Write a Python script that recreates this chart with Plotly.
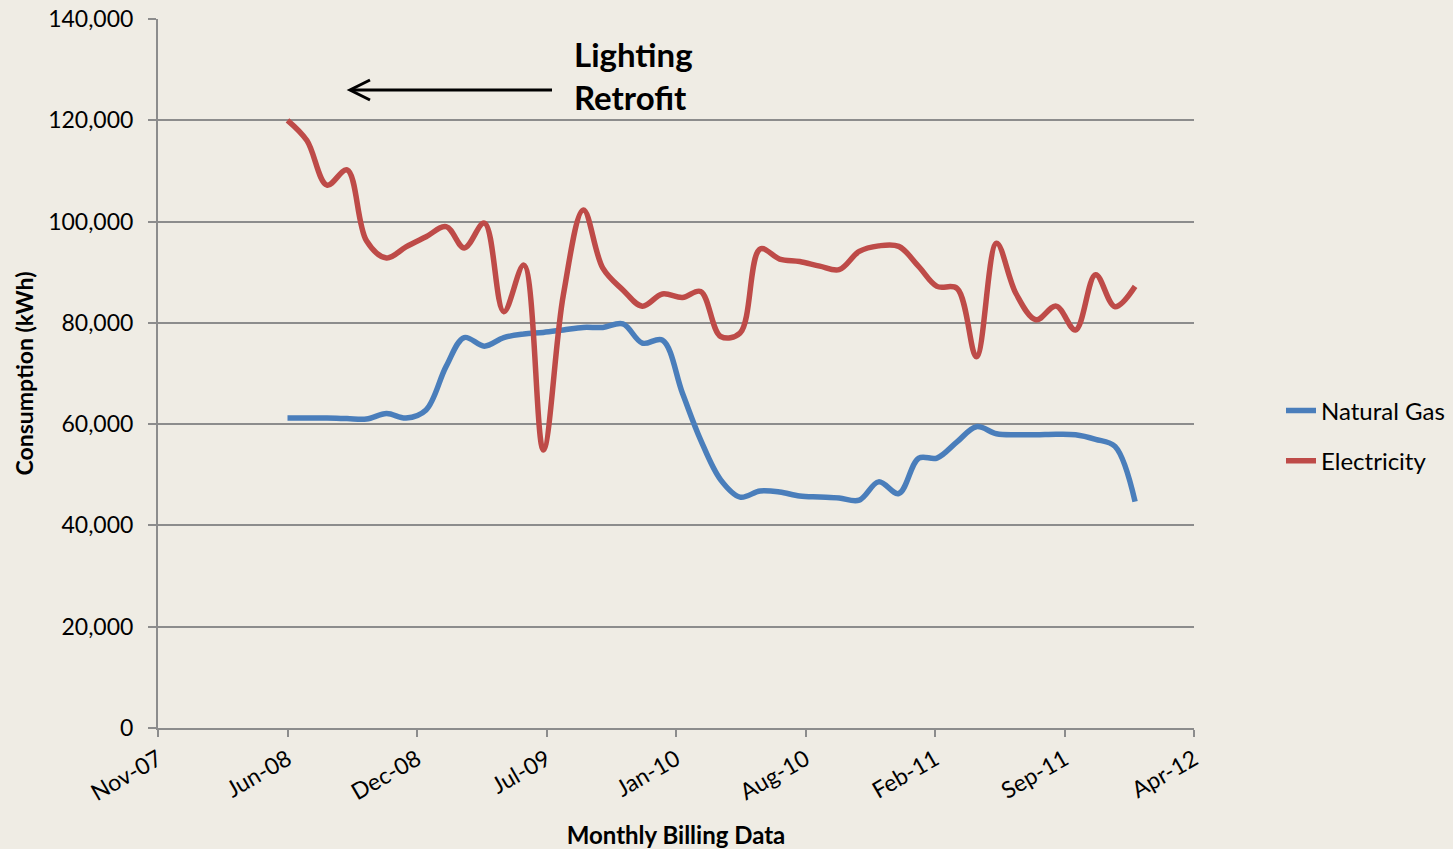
import pandas as pd
import plotly.graph_objects as go

# monthly billing, Jun-08 .. Jan-12
months = pd.date_range("2008-06-01", periods=44, freq="MS")

natural_gas = [61200, 61200, 61200, 61100, 61000, 62100, 61200, 62800, 71400, 77100,
               75400, 77100, 77800, 78100, 78600, 79100, 79100, 79800, 76000, 76600,
               66100, 56900, 49000, 45600, 46800, 46600, 45800, 45600, 45400, 45000,
               48600, 46300, 53300, 53300, 56500, 59500, 58100, 57900, 57900, 58000,
               57900, 57000, 55600, 44700]

electricity = [120000, 116000, 107200, 110200, 96200, 92800, 95000, 97000, 99000, 94800,
               99700, 82200, 91400, 54900, 85500, 102300, 90800, 86500, 83300, 85700,
               85000, 86200, 77300, 78000, 94600, 92600, 92100, 91200, 90500, 94100,
               95200, 95100, 91100, 87200, 86800, 73300, 95700, 85800, 80600, 83300,
               78600, 89500, 83200, 87200]

# axis ticks every 200 days (Excel date axis)
tick_dates = pd.date_range("2007-11-14", periods=9, freq="200D")
tick_labels = ["Nov-07", "Jun-08", "Dec-08", "Jul-09", "Jan-10",
               "Aug-10", "Feb-11", "Sep-11", "Apr-12"]

y_ticks = [0, 20000, 40000, 60000, 80000, 100000, 120000, 140000]

FONT = "Lato"
GRID = "#8C8C8C"
BG = "#EFECE4"

fig = go.Figure()
fig.add_trace(go.Scatter(x=months, y=natural_gas, name="Natural Gas", mode="lines",
                         legendgroup="gas",
                         line=dict(color="#4A7EBB", width=5.5, shape="spline", smoothing=1)))
fig.add_trace(go.Scatter(x=months, y=electricity, name="Electricity", mode="lines",
                         legendgroup="elec",
                         line=dict(color="#BE4B48", width=5.5, shape="spline", smoothing=1)))

# Lighting retrofit arrow (paper coords)
def px(x):
    return (x - 158) / 1036

def py(y):
    return (728 - y) / 709

fig.add_shape(type="line", xref="paper", yref="paper",
              x0=px(552), y0=py(90), x1=px(351), y1=py(90),
              line=dict(color="black", width=3))
fig.add_shape(type="path", xref="paper", yref="paper",
              path=f"M {px(370)},{py(80)} L {px(350)},{py(90)} L {px(370)},{py(100)}",
              line=dict(color="black", width=3))
fig.add_annotation(xref="paper", yref="paper", x=px(572), y=py(75), xanchor="left",
                   yanchor="middle", showarrow=False, align="left",
                   text="<b>Lighting<br>Retrofit</b>",
                   font=dict(family=FONT, size=33, color="black"))

fig.update_layout(
    width=1453, height=849,
    margin=dict(l=158, r=259, t=19, b=121, autoexpand=False),
    paper_bgcolor=BG, plot_bgcolor=BG,
    font=dict(family=FONT, size=23, color="black"),
    showlegend=True,
    legend=dict(x=px(1281), y=py(436), xanchor="left", yanchor="middle",
                bgcolor="rgba(0,0,0,0)", font=dict(size=24),
                traceorder="grouped", tracegroupgap=16),
    xaxis=dict(type="date", range=[tick_dates[0], tick_dates[-1]],
               tickvals=tick_dates, ticktext=tick_labels, tickangle=-30,
               showgrid=False, showline=True, linecolor=GRID, linewidth=2,
               ticks="outside", ticklen=7, tickcolor=GRID, tickwidth=2,
               automargin=False,
               title=dict(text="<b>Monthly Billing Data</b>", font=dict(size=24), standoff=22),
               zeroline=False),
    yaxis=dict(range=[0, 140000], tickvals=y_ticks, tickformat=",",
               showgrid=True, gridcolor=GRID, gridwidth=2,
               showline=True, linecolor=GRID, linewidth=2,
               ticks="outside", ticklen=8, tickcolor=GRID, tickwidth=2,
               ticklabelstandoff=10, automargin=False,
               title=dict(text="<b>Consumption (kWh)</b>", font=dict(size=23), standoff=8),
               zeroline=False),
)

fig.write_html("out.html", config={"displayModeBar": False},
               post_script=f"document.body.style.margin='0';document.body.style.background='{BG}';")
